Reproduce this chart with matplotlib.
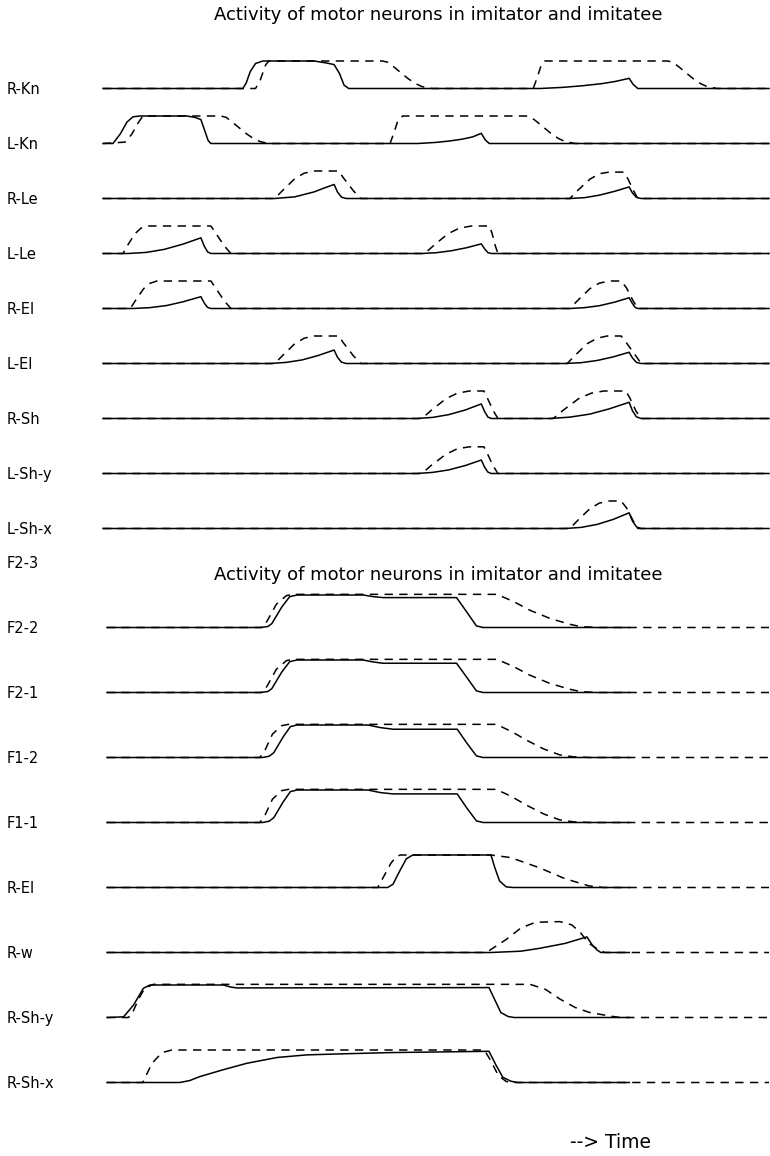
import matplotlib.pyplot as plt
from matplotlib.transforms import blended_transform_factory

plt.rcParams["font.family"] = ["DejaVu Sans"]
plt.rcParams["lines.scale_dashes"] = False

TITLE = "Activity of motor neurons in imitator and imitatee"
TIME_LABEL = "--> Time"
EXTRA_LABEL = "F2-3"

TOP_LABELS = ["R-Kn", "L-Kn", "R-Le", "L-Le", "R-El", "L-El", "R-Sh", "L-Sh-y", "L-Sh-x"]
BOTTOM_LABELS = ["F2-2", "F2-1", "F1-2", "F1-1", "R-El", "R-w", "R-Sh-y", "R-Sh-x"]

# time in arbitrary units (0-100 across a panel), activity normalised to 0-1
# solid = imitator, dashed = imitatee
TOP_IMITATOR = {
    "R-Kn": [(0, 0), (21.0, 0), (21.5, 0.2), (22.1, 0.61), (22.9, 0.91), (24.0, 1.0), (31.7, 1.0),
             (33.5, 0.93), (34.7, 0.87), (35.5, 0.55), (36.2, 0.12), (36.9, 0), (65.6, 0), (69.0, 0.04),
             (72.0, 0.1), (75.0, 0.18), (77.0, 0.26), (79.0, 0.37), (79.6, 0.15), (80.3, 0), (100, 0)],
    "L-Kn": [(0, 0), (1.5, 0), (2.6, 0.35), (3.6, 0.78), (4.5, 0.97), (5.5, 1.0), (12.6, 1.0),
             (13.8, 0.95), (14.7, 0.87), (15.3, 0.45), (15.8, 0.1), (16.2, 0), (47.3, 0), (50.0, 0.04),
             (52.0, 0.09), (54.0, 0.16), (55.5, 0.24), (56.8, 0.37), (57.4, 0.13), (58.0, 0), (100, 0)],
    "R-Le": [(0, 0), (25.8, 0), (28.8, 0.06), (31.7, 0.24), (33.2, 0.38), (34.7, 0.51), (35.2, 0.24),
             (35.8, 0.05), (36.5, 0), (70.1, 0), (72.3, 0.03), (74.5, 0.12), (76.8, 0.26), (79.0, 0.42),
             (79.5, 0.2), (80.1, 0.04), (80.8, 0), (100, 0)],
    "L-Le": [(0, 0), (3.8, 0), (6.5, 0.04), (9.2, 0.15), (12.0, 0.34), (14.7, 0.57), (15.2, 0.27),
             (15.7, 0.06), (16.2, 0), (47.9, 0), (50.1, 0.03), (52.3, 0.1), (54.6, 0.21), (56.8, 0.35),
             (57.3, 0.17), (57.8, 0.03), (58.3, 0), (100, 0)],
    "R-El": [(0, 0), (4.5, 0), (7.0, 0.03), (9.6, 0.11), (12.1, 0.25), (14.7, 0.43), (15.2, 0.2),
             (15.7, 0.04), (16.2, 0), (70.1, 0), (72.3, 0.03), (74.5, 0.1), (76.8, 0.23), (79.0, 0.39),
             (79.5, 0.18), (79.9, 0.04), (80.3, 0), (100, 0)],
    "L-El": [(0, 0), (25.1, 0), (27.5, 0.04), (29.9, 0.13), (32.3, 0.29), (34.7, 0.49), (35.2, 0.23),
             (35.8, 0.05), (36.5, 0), (69.4, 0), (71.8, 0.03), (74.2, 0.11), (76.6, 0.24), (79.0, 0.41),
             (79.5, 0.2), (80.1, 0.04), (80.8, 0), (100, 0)],
    "R-Sh": [(0, 0), (47.1, 0), (49.5, 0.04), (51.9, 0.14), (54.4, 0.31), (56.8, 0.53), (57.3, 0.25),
             (57.8, 0.05), (58.3, 0), (67.1, 0), (70.1, 0.05), (73.1, 0.16), (76.0, 0.35), (79.0, 0.59),
             (79.5, 0.28), (80.1, 0.06), (80.8, 0), (100, 0)],
    "L-Sh-y": [(0, 0), (47.1, 0), (49.5, 0.04), (51.9, 0.13), (54.4, 0.29), (56.8, 0.49), (57.3, 0.23),
               (57.8, 0.05), (58.3, 0), (100, 0)],
    "L-Sh-x": [(0, 0), (69.4, 0), (71.8, 0.04), (74.2, 0.15), (76.6, 0.33), (79.0, 0.57), (79.5, 0.27),
               (80.1, 0.06), (80.8, 0), (100, 0)],
}

TOP_IMITATEE = {
    "R-Kn": [(0, 0), (22.9, 0), (23.6, 0.3), (24.4, 0.85), (24.9, 1.0), (42.0, 1.0), (42.8, 0.95),
             (43.6, 0.8), (44.7, 0.58), (45.8, 0.36), (46.9, 0.18), (47.9, 0.07), (49.4, 0), (64.6, 0),
             (65.2, 0.4), (65.8, 0.85), (66.3, 1.0), (84.8, 1.0), (85.6, 0.95), (86.4, 0.8), (87.5, 0.58),
             (88.6, 0.36), (89.7, 0.18), (90.7, 0.07), (92.2, 0), (100, 0)],
    "L-Kn": [(0, 0), (3.3, 0.05), (4.3, 0.33), (5.3, 0.76), (6.0, 1.0), (17.7, 1.0), (18.5, 0.95),
             (19.3, 0.8), (20.4, 0.58), (21.5, 0.36), (22.6, 0.18), (23.6, 0.07), (24.8, 0), (43.1, 0),
             (43.7, 0.4), (44.3, 0.85), (45.0, 1.0), (63.5, 1.0), (64.3, 0.95), (65.1, 0.8), (66.2, 0.58),
             (67.3, 0.36), (68.4, 0.18), (69.4, 0.07), (70.9, 0), (100, 0)],
    "R-Le": [(0, 0), (25.8, 0), (27.0, 0.3), (28.8, 0.72), (30.2, 0.92), (31.7, 1.0), (35.4, 1.0),
             (36.1, 0.75), (37.6, 0.28), (38.7, 0), (70.1, 0), (71.3, 0.3), (73.1, 0.7), (74.5, 0.9),
             (76.0, 0.96), (78.2, 0.96), (78.8, 0.72), (79.7, 0.27), (80.3, 0), (100, 0)],
    "L-Le": [(0, 0), (3.0, 0), (3.7, 0.3), (4.8, 0.72), (5.7, 0.92), (6.6, 1.0), (16.2, 1.0),
             (16.9, 0.75), (18.2, 0.28), (19.2, 0), (48.3, 0), (49.7, 0.3), (51.8, 0.72), (53.5, 0.92),
             (55.3, 1.0), (58.0, 1.0), (58.4, 0.75), (58.9, 0.28), (59.3, 0), (100, 0)],
    "R-El": [(0, 0), (4.1, 0), (4.9, 0.3), (6.1, 0.72), (7.1, 0.92), (8.1, 1.0), (16.2, 1.0),
             (16.9, 0.75), (18.2, 0.28), (19.2, 0), (70.1, 0), (71.3, 0.3), (73.1, 0.72), (74.5, 0.92),
             (76.0, 1.0), (77.8, 1.0), (78.6, 0.75), (79.6, 0.28), (80.3, 0), (100, 0)],
    "L-El": [(0, 0), (25.8, 0), (27.0, 0.3), (28.8, 0.72), (30.2, 0.92), (31.7, 1.0), (35.4, 1.0),
             (36.1, 0.75), (37.6, 0.28), (38.7, 0), (69.7, 0), (70.9, 0.3), (72.7, 0.72), (74.2, 0.92),
             (75.7, 1.0), (77.8, 1.0), (78.6, 0.75), (80.0, 0.28), (80.8, 0), (100, 0)],
    "R-Sh": [(0, 0), (47.9, 0), (49.3, 0.3), (51.5, 0.72), (53.2, 0.92), (55.0, 1.0), (57.2, 1.0),
             (57.7, 0.75), (58.6, 0.28), (59.3, 0), (67.6, 0), (69.1, 0.3), (71.4, 0.72), (73.3, 0.92),
             (75.2, 1.0), (78.5, 1.0), (79.1, 0.75), (80.0, 0.28), (80.8, 0), (100, 0)],
    "L-Sh-y": [(0, 0), (47.9, 0), (49.3, 0.3), (51.5, 0.7), (53.2, 0.9), (55.0, 0.97), (57.2, 0.97),
               (57.7, 0.73), (58.6, 0.27), (59.3, 0), (100, 0)],
    "L-Sh-x": [(0, 0), (70.1, 0), (71.3, 0.3), (73.1, 0.72), (74.5, 0.92), (76.0, 1.0), (77.8, 1.0),
               (78.6, 0.75), (79.6, 0.28), (80.3, 0), (100, 0)],
}

BOTTOM_IMITATOR = {
    "F2-2": [(0, 0), (23.1, 0), (24.3, 0.03), (24.9, 0.12), (26.4, 0.63), (27.6, 0.95), (28.7, 1.0),
             (38.7, 1.0), (40.2, 0.95), (41.7, 0.92), (52.8, 0.92), (54.3, 0.49), (55.8, 0.05), (56.8, 0),
             (78.9, 0)],
    "F2-1": [(0, 0), (23.1, 0), (24.3, 0.03), (24.9, 0.12), (26.4, 0.63), (27.6, 0.95), (28.7, 1.0),
             (38.7, 1.0), (40.2, 0.94), (41.7, 0.9), (52.8, 0.9), (54.3, 0.48), (55.8, 0.05), (56.8, 0),
             (78.9, 0)],
    "F1-2": [(0, 0), (23.5, 0), (24.5, 0.04), (25.2, 0.15), (26.6, 0.63), (27.7, 0.95), (28.7, 1.0),
             (39.4, 1.0), (41.3, 0.92), (43.2, 0.87), (52.9, 0.87), (54.3, 0.46), (55.8, 0.05), (56.8, 0),
             (78.9, 0)],
    "F1-1": [(0, 0), (23.5, 0), (24.5, 0.04), (25.2, 0.15), (26.6, 0.63), (27.7, 0.95), (28.7, 1.0),
             (39.4, 1.0), (41.3, 0.92), (43.2, 0.88), (52.9, 0.88), (54.3, 0.46), (55.8, 0.05), (56.8, 0),
             (78.9, 0)],
    "R-El": [(0, 0), (42.4, 0), (43.2, 0.1), (44.2, 0.5), (45.2, 0.88), (46.2, 1.0), (58.0, 1.0),
             (58.6, 0.6), (59.3, 0.2), (60.3, 0.02), (61.3, 0), (78.9, 0)],
    "R-w": [(0, 0), (58.0, 0), (62.5, 0.04), (65.4, 0.13), (69.2, 0.28), (72.5, 0.48), (73.3, 0.23),
            (74.0, 0.08), (74.6, 0), (78.9, 0)],
    "R-Sh-y": [(0, 0), (2.5, 0.02), (4.0, 0.38), (5.5, 0.9), (6.5, 1.0), (17.6, 1.0), (18.6, 0.94),
               (19.6, 0.91), (57.7, 0.92), (59.5, 0.15), (60.6, 0.03), (61.5, 0), (78.9, 0)],
    "R-Sh-x": [(0, 0), (11.0, 0), (12.5, 0.06), (14.0, 0.18), (17.5, 0.39), (21.1, 0.59), (25.7, 0.77),
               (30.2, 0.85), (35.2, 0.88), (42.7, 0.92), (57.7, 0.96), (58.8, 0.52), (59.8, 0.16),
               (61.0, 0.04), (62.0, 0), (78.9, 0)],
}

BOTTOM_IMITATEE = {
    "F2-2": [(0, 0), (23.6, 0), (24.3, 0.24), (25.6, 0.72), (27.1, 0.98), (28.0, 1.02), (58.9, 1.02),
             (61.4, 0.8), (63.9, 0.53), (66.9, 0.28), (69.9, 0.1), (71.5, 0.03), (74.0, 0), (100, 0)],
    "F2-1": [(0, 0), (23.6, 0), (24.3, 0.24), (25.6, 0.72), (27.1, 0.98), (28.0, 1.02), (58.9, 1.02),
             (61.4, 0.8), (63.9, 0.53), (66.9, 0.28), (69.9, 0.1), (71.5, 0.03), (74.0, 0), (100, 0)],
    "F1-2": [(0, 0), (23.1, 0), (23.9, 0.24), (25.0, 0.72), (26.4, 0.98), (27.4, 1.02), (58.8, 1.02),
             (61.1, 0.8), (63.4, 0.53), (66.0, 0.26), (68.4, 0.08), (70.5, 0.02), (73.0, 0), (100, 0)],
    "F1-1": [(0, 0), (23.1, 0), (23.9, 0.24), (25.0, 0.72), (26.4, 0.98), (27.4, 1.02), (58.8, 1.02),
             (61.1, 0.8), (63.4, 0.53), (66.0, 0.26), (68.4, 0.08), (70.5, 0.02), (73.0, 0), (100, 0)],
    "R-El": [(0, 0), (40.9, 0), (41.7, 0.3), (42.9, 0.75), (43.7, 0.95), (44.3, 1.0), (58.0, 1.0),
             (61.0, 0.92), (65.4, 0.6), (69.2, 0.27), (72.8, 0.05), (75.0, 0), (100, 0)],
    "R-w": [(0, 0), (57.3, 0), (60.3, 0.4), (62.5, 0.75), (64.7, 0.93), (68.4, 0.95), (70.2, 0.85),
            (71.4, 0.64), (72.8, 0.28), (74.3, 0.08), (75.2, 0), (100, 0)],
    "R-Sh-y": [(0, 0), (3.2, 0), (3.7, 0.07), (4.7, 0.54), (5.7, 0.9), (7.0, 1.02), (63.9, 1.02),
               (66.2, 0.87), (68.4, 0.57), (70.7, 0.31), (72.8, 0.16), (75.8, 0.05), (77.5, 0), (100, 0)],
    "R-Sh-x": [(0, 0), (5.4, 0), (6.8, 0.59), (8.3, 0.92), (9.8, 1.0), (57.0, 1.0), (58.0, 0.66),
               (59.1, 0.22), (60.3, 0.03), (61.3, 0), (100, 0)],
}

TRACE_SCALE = 0.5  # trace height relative to row spacing

fig = plt.figure(figsize=(7.7, 11.56), dpi=100)
ax_top = fig.add_axes([103 / 770, 1 - 539.5 / 1156, 666 / 770, 495 / 1156])
ax_bot = fig.add_axes([107 / 770, 1 - 1102 / 1156, 662 / 770, 520 / 1156])


def draw_panel(ax, labels, solid, dashed, label_drop):
    for i, name in enumerate(labels):
        for series, dash in ((dashed, True), (solid, False)):
            t = [p[0] for p in series[name]]
            v = [-i + TRACE_SCALE * p[1] for p in series[name]]
            line, = ax.plot(t, v, color="black", lw=1.1, clip_on=False,
                            solid_joinstyle="round", dash_joinstyle="round")
            if dash:
                line.set_dashes((6.0, 4.6))
        trans = blended_transform_factory(fig.transFigure, ax.transData)
        ax.text(7 / 770, -i - label_drop, name, transform=trans, ha="left",
                va="baseline", fontsize=10.5)
    ax.set_xlim(0, 100)
    ax.axis("off")


draw_panel(ax_top, TOP_LABELS, TOP_IMITATOR, TOP_IMITATEE, 0.105)
ax_top.set_ylim(-8.2, 0.8)
draw_panel(ax_bot, BOTTOM_LABELS, BOTTOM_IMITATOR, BOTTOM_IMITATEE, 0.09)
ax_bot.set_ylim(-7.3, 0.7)

fig.text(438 / 770, 1 - 15 / 1156, TITLE, ha="center", va="center", fontsize=13)
fig.text(438 / 770, 1 - 575 / 1156, TITLE, ha="center", va="center", fontsize=13)
fig.text(7 / 770, 1 - 568 / 1156, EXTRA_LABEL, ha="left", va="baseline", fontsize=10.5)
fig.text(570 / 770, 1 - 1143 / 1156, TIME_LABEL, ha="left", va="center", fontsize=13.5)

fig.savefig("out.png", dpi=100, facecolor="white")
